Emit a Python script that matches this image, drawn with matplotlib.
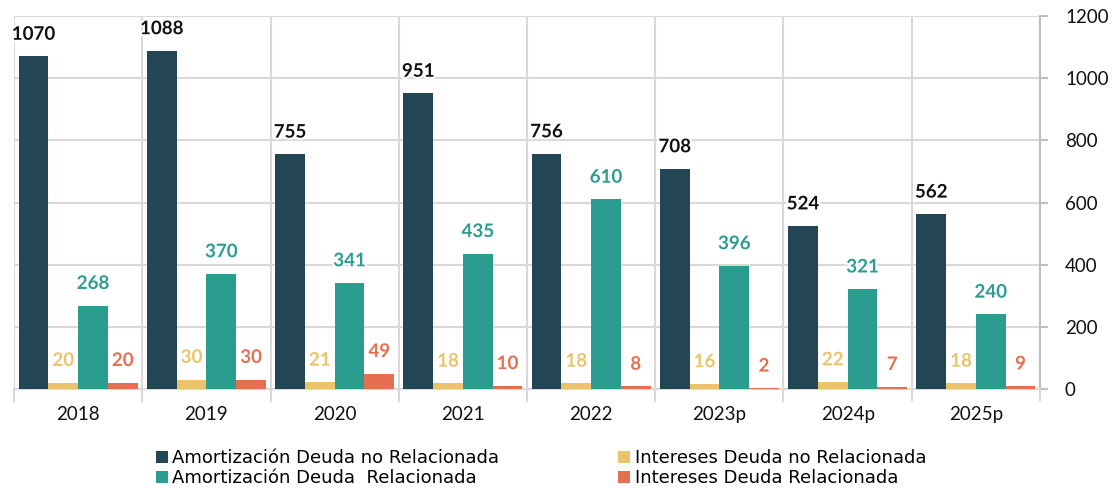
import numpy as np
import matplotlib.pyplot as plt
import matplotlib.patheffects as pe

# Data
years = ["2018", "2019", "2020", "2021", "2022", "2023p", "2024p", "2025p"]
amort_no_rel = [1070, 1088, 755, 951, 756, 708, 524, 562]
int_no_rel = [20, 30, 21, 18, 18, 16, 22, 18]
amort_rel = [268, 370, 341, 435, 610, 396, 321, 240]
int_rel = [20, 30, 49, 10, 8, 2, 7, 9]

series = [
    ("Amortización Deuda no Relacionada", amort_no_rel, "#244654", "#111111"),
    ("Intereses Deuda no Relacionada", int_no_rel, "#e9c46a", "#e9c46a"),
    ("Amortización Deuda  Relacionada", amort_rel, "#2a9d8f", "#2a9d8f"),
    ("Intereses Deuda Relacionada", int_rel, "#e76f51", "#e76f51"),
]

plt.rcParams['font.family'] = ['Lato', 'DejaVu Sans']

fig = plt.figure(figsize=(11.13, 4.88), dpi=100)
ax = fig.add_axes([0.0126, 0.203, 0.9218, 0.764])

x = np.arange(len(years))
w = 0.232
offsets = (np.arange(4) - 1.5) * w

for (name, vals, color, tcolor), off in zip(series, offsets):
    bars = ax.bar(x + off, vals, width=w, color=color, label=name, zorder=3)
    for b, v in zip(bars, vals):
        ax.annotate(str(v), (b.get_x() + b.get_width() / 2, v),
                    xytext=(0, 16), textcoords="offset points",
                    ha="center", va="center", fontsize=13.5, fontweight="bold",
                    color=tcolor, zorder=4,
                    path_effects=[pe.withStroke(linewidth=3, foreground="white")])

ax.set_xlim(-0.5, len(years) - 0.5)
ax.set_ylim(0, 1200)
ax.set_yticks(np.arange(0, 1201, 200))
ax.yaxis.tick_right()
ax.tick_params(axis="y", direction="out", length=6, color="#bfbfbf", width=1.5,
               labelsize=13.5, pad=12, labelcolor="#111111")

ax.set_xticks(x)
ax.set_xticklabels(years)
ax.set_xticks(np.arange(-0.5, len(years), 1), minor=True)
ax.tick_params(axis="x", which="major", length=0, labelsize=13.5, pad=12,
               labelcolor="#111111")
ax.tick_params(axis="x", which="minor", length=9, color="#d9d9d9", width=1.5)

ax.grid(axis="y", color="#d9d9d9", linewidth=1.5, zorder=0)
ax.grid(axis="x", which="minor", color="#d9d9d9", linewidth=1.5, zorder=0)

for s in ["top", "left"]:
    ax.spines[s].set_visible(False)
ax.spines["right"].set_color("#bfbfbf")
ax.spines["right"].set_linewidth(1.5)
ax.spines["bottom"].set_color("#d9d9d9")
ax.spines["bottom"].set_linewidth(1.5)

handles, labels = ax.get_legend_handles_labels()
order = [0, 2, 1, 3]
leg = fig.legend([handles[i] for i in order], [labels[i] for i in order],
                 loc="center", bbox_to_anchor=(0.486, 0.041), ncol=2,
                 frameon=False, handlelength=0.65, handleheight=0.65,
                 handletextpad=0.25, columnspacing=6.6, labelspacing=0.1,
                 borderpad=0, prop={"family": ["DejaVu Sans"], "size": 13})

fig.savefig("out.png", dpi=100)
